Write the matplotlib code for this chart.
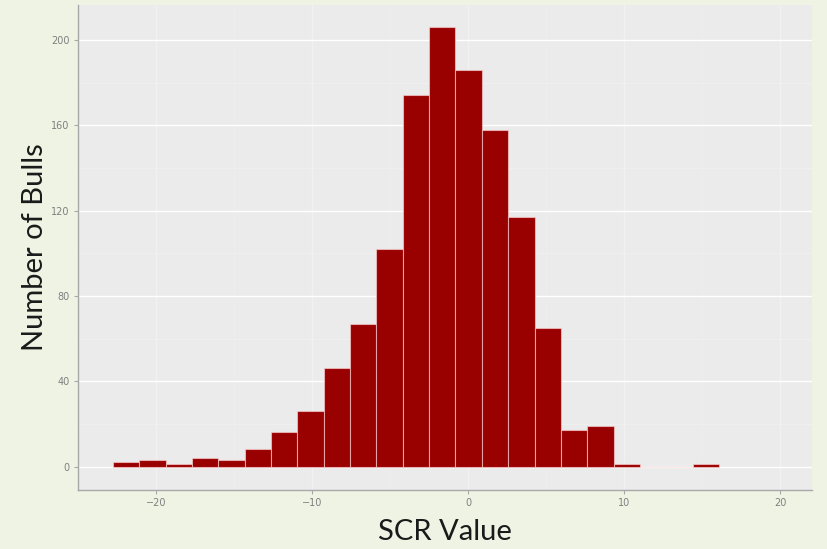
import numpy as np
import matplotlib.pyplot as plt
from matplotlib.ticker import MultipleLocator

# Histogram of SCR values (counts)
bin_start = -22.76
bin_width = 1.689
counts = [2, 3, 1, 4, 3, 8, 16, 26, 46, 67, 102, 174, 206, 186, 158, 117, 65, 17, 19, 1, 0, 0, 1]
x_ticks = [-20, -10, 0, 10, 20]
y_ticks = [0, 40, 80, 120, 160, 200]

edges = bin_start + bin_width * np.arange(len(counts) + 1)

fig = plt.figure(figsize=(8.28, 5.49), dpi=100)
fig.patch.set_facecolor("#eff3e4")
ax = fig.add_axes([78 / 828, 59 / 549, 734 / 828, 485 / 549])
ax.set_facecolor("#ebebeb")

ax.bar(edges[:-1], counts, width=bin_width, align="edge",
       color="#990000", edgecolor=(1, 0.85, 0.85, 0.6), linewidth=0.8, zorder=3)

ax.set_xlim(-25.0, 22.05)
ax.set_ylim(-11, 216.4)
ax.set_xticks(x_ticks)
ax.set_yticks(y_ticks)
ax.xaxis.set_minor_locator(MultipleLocator(5))
ax.yaxis.set_minor_locator(MultipleLocator(20))
ax.yaxis.grid(which="major", color="white", linewidth=1.0, zorder=0)
ax.yaxis.grid(which="minor", color="#f2f2f2", linewidth=0.5, zorder=0)
ax.xaxis.grid(which="major", color="#f1f1f1", linewidth=1.0, zorder=0)
ax.xaxis.grid(which="minor", color="#eeeeee", linewidth=0.5, zorder=0)

for s in ["top", "right"]:
    ax.spines[s].set_visible(False)
for s in ["left", "bottom"]:
    ax.spines[s].set_color("#a8a8a8")
    ax.spines[s].set_linewidth(1.0)

ax.tick_params(which="major", length=3, color="#a8a8a8", labelsize=7,
               labelcolor="#7f7f7f", pad=3)
ax.tick_params(which="minor", length=0)

ax.set_xlabel("SCR Value", fontsize=21, family="Lato",
              labelpad=8, color="#1a1a1a")
ax.set_ylabel("Number of Bulls", fontsize=21, family="Lato",
              labelpad=2, color="#1a1a1a")

fig.savefig("out.png", dpi=100, facecolor=fig.get_facecolor())
